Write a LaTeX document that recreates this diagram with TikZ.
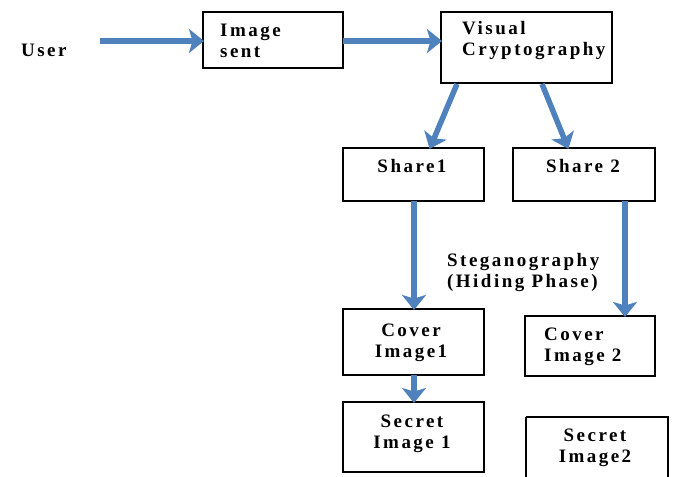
\documentclass[tikz,border=0pt]{standalone}
\usepackage{fontspec}
\setmainfont{Liberation Serif}[LetterSpace=13]
\usetikzlibrary{arrows.meta}
\definecolor{flowblue}{RGB}{79,129,189}
\tikzset{
  stage/.style={draw=black, line width=1.1pt, fill=white},
  lbl/.style={font=\fontsize{19}{21}\selectfont\bfseries, inner sep=0pt, anchor=base west, align=left},
  flow/.style={draw=flowblue, line width=5.5pt,
    -{Stealth[width=24pt,length=15pt,inset=3.5pt]}, shorten >=-1pt},
}
\begin{document}
\begin{tikzpicture}[x=1pt,y=-1pt]
\useasboundingbox (0,0) rectangle (673,477);

% boxes
\draw[stage] (203,12) rectangle (343,68);
\coordinate (sentL) at (203,41); \coordinate (sentR) at (343,41);
\draw[stage] (441,12) rectangle (612,83);
\coordinate (vcL) at (441,41);
\draw[stage] (343,148) rectangle (484,201);
\draw[stage] (513,148) rectangle (655,201);
\draw[stage] (343,309) rectangle (484,375);
\draw[stage] (525,316) rectangle (655,376);
\draw[stage] (343,402) rectangle (484,472);
\draw[stage] (526,417) -- (526,480) (526,417) -- (668,417) -- (668,480);

% labels (multi-line nodes sit on the baseline of their last line)
\node[lbl] (user) at (21,56) {User};
\node[lbl] (sent) at (220,57) {Image\\sent};
\node[lbl] (vc) at (462,55) {Visual\\Cryptography};
\node[lbl, anchor=base] (sh1) at (412,172) {Share1};
\node[lbl, anchor=base] (sh2) at (583,172) {Share 2};
\node[lbl] (steg) at (447,287) {Steganography\\(Hiding Phase)};
\node[lbl, anchor=base, align=center] (cov1) at (411,357) {Cover\\Image1};
\node[lbl] (cov2) at (544,361) {Cover\\Image 2};
\node[lbl, anchor=base, align=center] (sec1) at (412,448) {Secret\\Image 1};
\node[lbl, anchor=base, align=center] (sec2) at (595,462) {Secret\\Image2};

% connectors
\coordinate (u0) at (100,41);
\draw[flow] (u0) -- (sentL);
\draw[flow] (sentR) -- (vcL);
\coordinate (vcA) at (457,84); \coordinate (sh1T) at (430,148);
\coordinate (vcB) at (542,84); \coordinate (sh2T) at (568,148);
\draw[flow] (vcA) -- (sh1T);
\draw[flow] (vcB) -- (sh2T);
\coordinate (sh1B) at (414,201); \coordinate (cov1T) at (414,309);
\coordinate (sh2B) at (625,201); \coordinate (cov2T) at (625,316);
\draw[flow] (sh1B) -- (cov1T);
\draw[flow] (sh2B) -- (cov2T);
\coordinate (cov1B) at (414,375); \coordinate (sec1T) at (414,402);
\draw[flow] (cov1B) -- (sec1T);
\end{tikzpicture}
\end{document}
